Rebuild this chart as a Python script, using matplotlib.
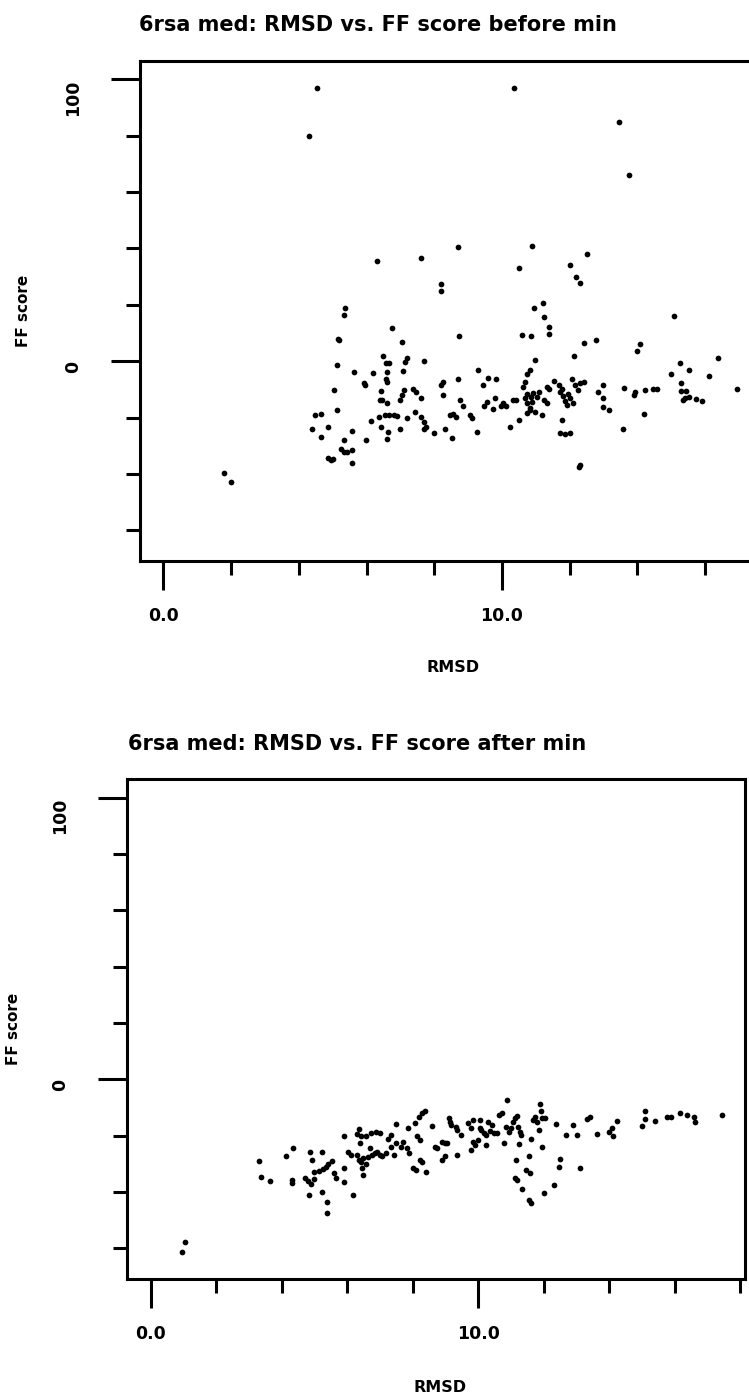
import numpy as np
import matplotlib
matplotlib.use("Agg")
import matplotlib.pyplot as plt

# RMSD vs. FF score, before minimisation
x_before = [4.55, 10.37, 4.31, 13.47, 13.74, 6.3, 7.6, 8.7, 10.9, 10.5, 12.5, 8.2, 8.2, 12.0, 12.2, 12.3,
            1.80, 2.0, 5.37, 5.34, 5.17, 5.2, 5.13, 5.04, 5.13, 4.49, 4.66, 4.38, 4.87, 4.66,
            4.87, 4.94, 5.0, 5.25, 5.34, 5.42, 5.58, 5.58, 5.58, 5.34, 5.62, 5.98, 5.93, 5.95,
            6.12, 6.19, 6.36, 6.40, 6.47, 6.44, 6.43, 6.50, 6.57, 6.67, 6.57, 6.6, 6.61, 6.61,
            6.64, 6.61, 6.55, 6.67, 6.8, 6.9, 6.76, 7.0, 7.04, 7.07, 7.14, 7.21, 7.04, 7.11, 7.0,
            7.21, 7.38, 7.46, 7.42, 7.6, 7.6, 7.7, 7.75, 7.7, 7.7, 7.99, 8.2, 8.27, 8.27, 8.31,
            8.51, 8.46, 8.56, 8.63, 8.7, 8.74, 8.77, 8.84, 9.05, 9.12, 9.26, 9.29, 9.45, 9.59,
            9.83, 9.48, 9.55, 9.73, 9.79, 9.97, 10.04, 10.11, 10.25, 10.33, 10.4, 10.5, 10.58,
            10.85, 10.61, 10.68, 10.68, 10.75, 10.75, 10.82, 10.75, 10.82, 10.9, 10.82, 10.75,
            10.97, 10.86, 10.92, 10.99, 10.95, 11.2, 11.25, 11.39, 11.39, 11.03, 11.1, 11.18,
            11.32, 11.39, 11.25, 11.32, 11.53, 11.67, 11.71, 11.77, 11.8, 11.87, 11.92, 11.95,
            12.02, 12.1, 11.78, 11.71, 11.86, 12.0, 12.12, 12.07, 12.17, 12.24, 12.31, 12.42,
            12.28, 12.31, 12.42, 12.78, 12.85, 12.99, 12.99, 12.99, 13.16, 13.56, 13.61, 13.9,
            13.94, 13.99, 14.08, 14.22, 14.2, 14.46, 14.58, 15.0, 15.08, 15.25, 15.28, 15.3,
            15.44, 15.51, 15.34, 15.4, 15.52, 15.72, 15.9, 16.1, 16.39, 16.94]
y_before = [97, 97, 80, 85, 66, 35.5, 36.5, 40.4, 41, 33, 38, 27.5, 25, 34, 30, 27.7,
            -39.6, -42.8, 18.7, 16.3, 8.0, 7.6, -1.4, -10.3, -17.4, -19.2, -18.6, -24.2, -23.3, -26.9,
            -34.5, -35.1, -34.6, -31.0, -32.2, -32.2, -31.4, -36.3, -24.7, -28.0, -3.8, -27.8, -7.9, -8.3,
            -21.3, -4.1, -19.8, -13.8, -13.8, -10.5, -23.3, 1.8, -0.8, -0.8, -6.2, -7.3, -3.8, -15.0,
            -25.0, -27.5, -19.0, -19.2, -19.0, -19.4, 11.6, -24.2, 6.9, -3.5, -0.2, 1.0, -12.0, -10.3, -13.8,
            -20.3, -9.7, -10.9, -18.0, -13.2, -19.8, -21.5, -23.3, -24.2, 0.0, -25.4, -8.5, -7.3, -12.0, -23.9,
            -27.1, -19.2, -18.6, -19.8, -6.4, 8.9, -13.8, -16.0, -19.2, -20.3, -25.1, -3.2, -8.5, -5.8,
            -6.5, -16.0, -14.4, -16.8, -13.2, -16.0, -15.0, -16.0, -23.3, -13.8, -13.8, -20.7, 9.2,
            8.9, -9.3, -7.3, -13.2, -11.5, -4.4, -3.2, -15.0, -16.5, -14.5, -17.5, -18.5,
            -18.0, -12.7, -11.2, 0.4, 18.7, 20.7, 15.5, 12.2, 9.8, -12.7, -10.9, -19.2,
            -9.1, -9.7, -13.6, -15.0, -7.0, -8.5, -10.9, -9.7, -12.5, -14.0, -15.5, -11.5,
            -13.0, -15.0, -20.7, -25.4, -25.7, -25.4, 1.8, -6.5, -8.5, -10.3, -7.9, -7.3,
            -37.5, -36.7, 6.3, 7.5, -10.9, -8.3, -13.2, -16.2, -17.2, -23.9, -9.5, -12.0,
            -10.9, 3.7, 6.0, -10.3, -18.6, -10.0, -9.7, -4.6, 16.0, -0.8, -10.6, -7.7,
            -10.5, -3.0, -13.8, -13.2, -12.8, -13.5, -14.0, -5.3, 1.2, -9.8]

# RMSD vs. FF score, after minimisation
x_after = [1.04, 0.97, 3.3, 3.36, 3.65, 4.14, 4.34, 4.31, 4.31, 4.7, 4.8, 4.9, 5.0, 4.87, 4.94,
           5.23, 4.84, 5.23, 5.39, 5.39, 5.0, 5.15, 5.25, 5.35, 5.43, 5.53, 5.6, 5.67, 5.92, 5.92,
           5.92, 6.04, 6.11, 6.18, 6.3, 6.36, 6.43, 6.5, 6.58, 6.65, 6.3, 6.36, 6.43, 6.58, 6.72,
           6.87, 6.99, 6.4, 6.5, 6.45, 6.7, 6.77, 6.84, 6.91, 6.99, 7.06, 7.18, 7.24, 7.35, 7.35,
           7.43, 7.5, 7.5, 7.65, 7.72, 7.87, 7.82, 7.9, 8.01, 8.09, 8.08, 8.13, 8.23, 8.2, 8.3,
           8.38, 8.23, 8.3, 8.42, 8.6, 8.67, 8.74, 8.89, 8.99, 9.04, 8.89, 8.99, 9.11, 9.18, 9.14,
           9.33, 9.37, 9.37, 9.47, 9.7, 9.77, 9.84, 9.77, 9.84, 9.91, 9.99, 10.06, 10.06, 10.1,
           10.18, 10.25, 10.35, 10.25, 10.31, 10.42, 10.5, 10.57, 10.64, 10.72, 10.79, 10.89,
           10.86, 10.94, 11.0, 11.08, 11.12, 11.18, 11.23, 11.27, 11.3, 11.26, 11.15, 11.13,
           11.18, 11.35, 11.45, 11.59, 11.56, 11.56, 11.62, 11.62, 11.67, 11.74, 11.81, 11.88,
           11.91, 11.96, 12.03, 11.86, 11.96, 12.0, 12.32, 12.37, 12.5, 12.47, 12.69, 12.91,
           13.03, 13.1, 13.32, 13.42, 13.64, 14.0, 14.11, 14.08, 14.23, 14.99, 15.1, 15.1, 15.4,
           15.76, 15.9, 16.16, 16.37, 16.6, 16.63, 17.44]
y_after = [-57.6, -61.2, -28.9, -34.8, -36.2, -27.1, -24.3, -35.7, -36.9, -35.0, -36.0, -37.0, -35.5, -25.7, -28.6,
           -25.7, -41.0, -39.9, -43.4, -47.6, -33.0, -32.5, -32.0, -31.0, -30.0, -29.0, -33.4, -35.1, -20.3, -31.6,
           -36.3, -25.7, -26.9, -41.0, -27.0, -28.5, -29.5, -28.0, -30.0, -27.5, -19.5, -17.8, -20.0, -20.3, -19.2,
           -18.6, -19.2, -22.7, -34.0, -31.6, -24.5, -26.9, -26.3, -25.7, -26.9, -27.4, -26.3, -21.3, -19.8, -23.9,
           -26.9, -15.9, -22.7, -23.9, -22.1, -17.4, -24.5, -26.3, -31.6, -32.2, -15.6, -20.1, -21.5, -13.3, -11.8,
           -11.1, -28.6, -29.2, -32.8, -16.6, -23.9, -24.5, -22.1, -22.7, -22.5, -28.6, -27.4, -13.8, -16.2, -15.0,
           -16.8, -18.0, -26.9, -19.8, -15.6, -17.4, -14.4, -25.1, -22.1, -23.3, -21.5, -14.4, -17.4, -18.0,
           -19.0, -19.8, -18.5, -23.3, -15.0, -16.2, -19.2, -19.2, -12.7, -12.0, -22.5, -7.3,
           -16.8, -18.6, -17.4, -15.0, -13.8, -13.0, -16.8, -18.6, -19.8, -23.1, -28.6, -35.1,
           -35.7, -39.0, -32.2, -33.4, -27.4, -42.8, -44.0, -21.3, -14.4, -13.3, -15.0, -8.8,
           -11.2, -13.8, -13.8, -18.0, -23.9, -40.2, -37.5, -15.9, -28.4, -31.0, -19.8, -16.2,
           -19.8, -31.6, -14.2, -13.3, -19.4, -18.6, -20.1, -17.4, -14.8, -16.6, -11.2, -14.2, -14.7,
           -13.3, -13.5, -12.1, -12.7, -13.5, -15.0, -12.7]

titles = ["6rsa med: RMSD vs. FF score before min", "6rsa med: RMSD vs. FF score after min"]
x_major = [0, 10]
x_major_labels = ["0.0", "10.0"]
x_minor = [2, 4, 6, 8, 12, 14, 16, 18]
y_major = [0, 100]
y_major_labels = ["0", "100"]
y_minor = [-60, -40, -20, 20, 40, 60, 80]

W, H = 749, 1396
plt.rcParams['font.family'] = ['DejaVu Sans']
plt.rcParams['font.weight'] = 'bold'
fig = plt.figure(figsize=(W / 100, H / 100), dpi=100)


def px(x0, y0, x1, y1):
    # axes rectangle from pixel box (top-left origin)
    return [x0 / W, 1 - y1 / H, (x1 - x0) / W, (y1 - y0) / H]


def style(ax, xlim, ylim):
    ax.set_xlim(*xlim)
    ax.set_ylim(*ylim)
    for s in ['left', 'bottom', 'top', 'right']:
        ax.spines[s].set_linewidth(2.2)
    ax.set_xticks(x_major)
    ax.set_xticklabels(x_major_labels)
    ax.set_xticks(x_minor, minor=True)
    ax.set_yticks(y_major)
    ax.set_yticklabels(y_major_labels)
    ax.set_yticks(y_minor, minor=True)
    ax.tick_params(which='major', length=21, width=2.2, direction='out', labelsize=12.5)
    ax.tick_params(which='minor', length=10, width=2.2, direction='out')
    ax.tick_params(axis='x', which='major', pad=12)
    ax.tick_params(axis='y', which='major', pad=20.5)
    for lab in ax.get_yticklabels():
        lab.set_rotation(90)
        lab.set_va('top')
        lab.set_ha('right')
    for lab in ax.get_xticklabels() + ax.get_yticklabels():
        lab.set_fontweight('bold')


# before min
ax1 = fig.add_axes(px(140, 61, 783, 561))
ax1.scatter(x_before, y_before, s=17, c='black', linewidths=0)
style(ax1, (-0.69, 18.3), (-70.9, 106.5))
fig.text(139 / W, 1 - 31 / H, titles[0], fontsize=15, fontweight='bold', va='baseline', ha='left')
fig.text(453 / W, 1 - 667 / H, "RMSD", fontsize=11.5, fontweight='bold', va='center', ha='center')
fig.text(23 / W, 1 - 311 / H, "FF score", fontsize=11, fontweight='bold', va='center', ha='center', rotation=90)

# after min
ax2 = fig.add_axes(px(127, 779, 745, 1279))
ax2.scatter(x_after, y_after, s=17, c='black', linewidths=0)
style(ax2, (-0.72, 18.15), (-70.9, 106.6))
fig.text(128 / W, 1 - 750 / H, titles[1], fontsize=15, fontweight='bold', va='baseline', ha='left')
fig.text(440 / W, 1 - 1388 / H, "RMSD", fontsize=11.5, fontweight='bold', va='center', ha='center')
fig.text(13 / W, 1 - 1029 / H, "FF score", fontsize=11, fontweight='bold', va='center', ha='center', rotation=90)

fig.savefig("out.png", dpi=100)
